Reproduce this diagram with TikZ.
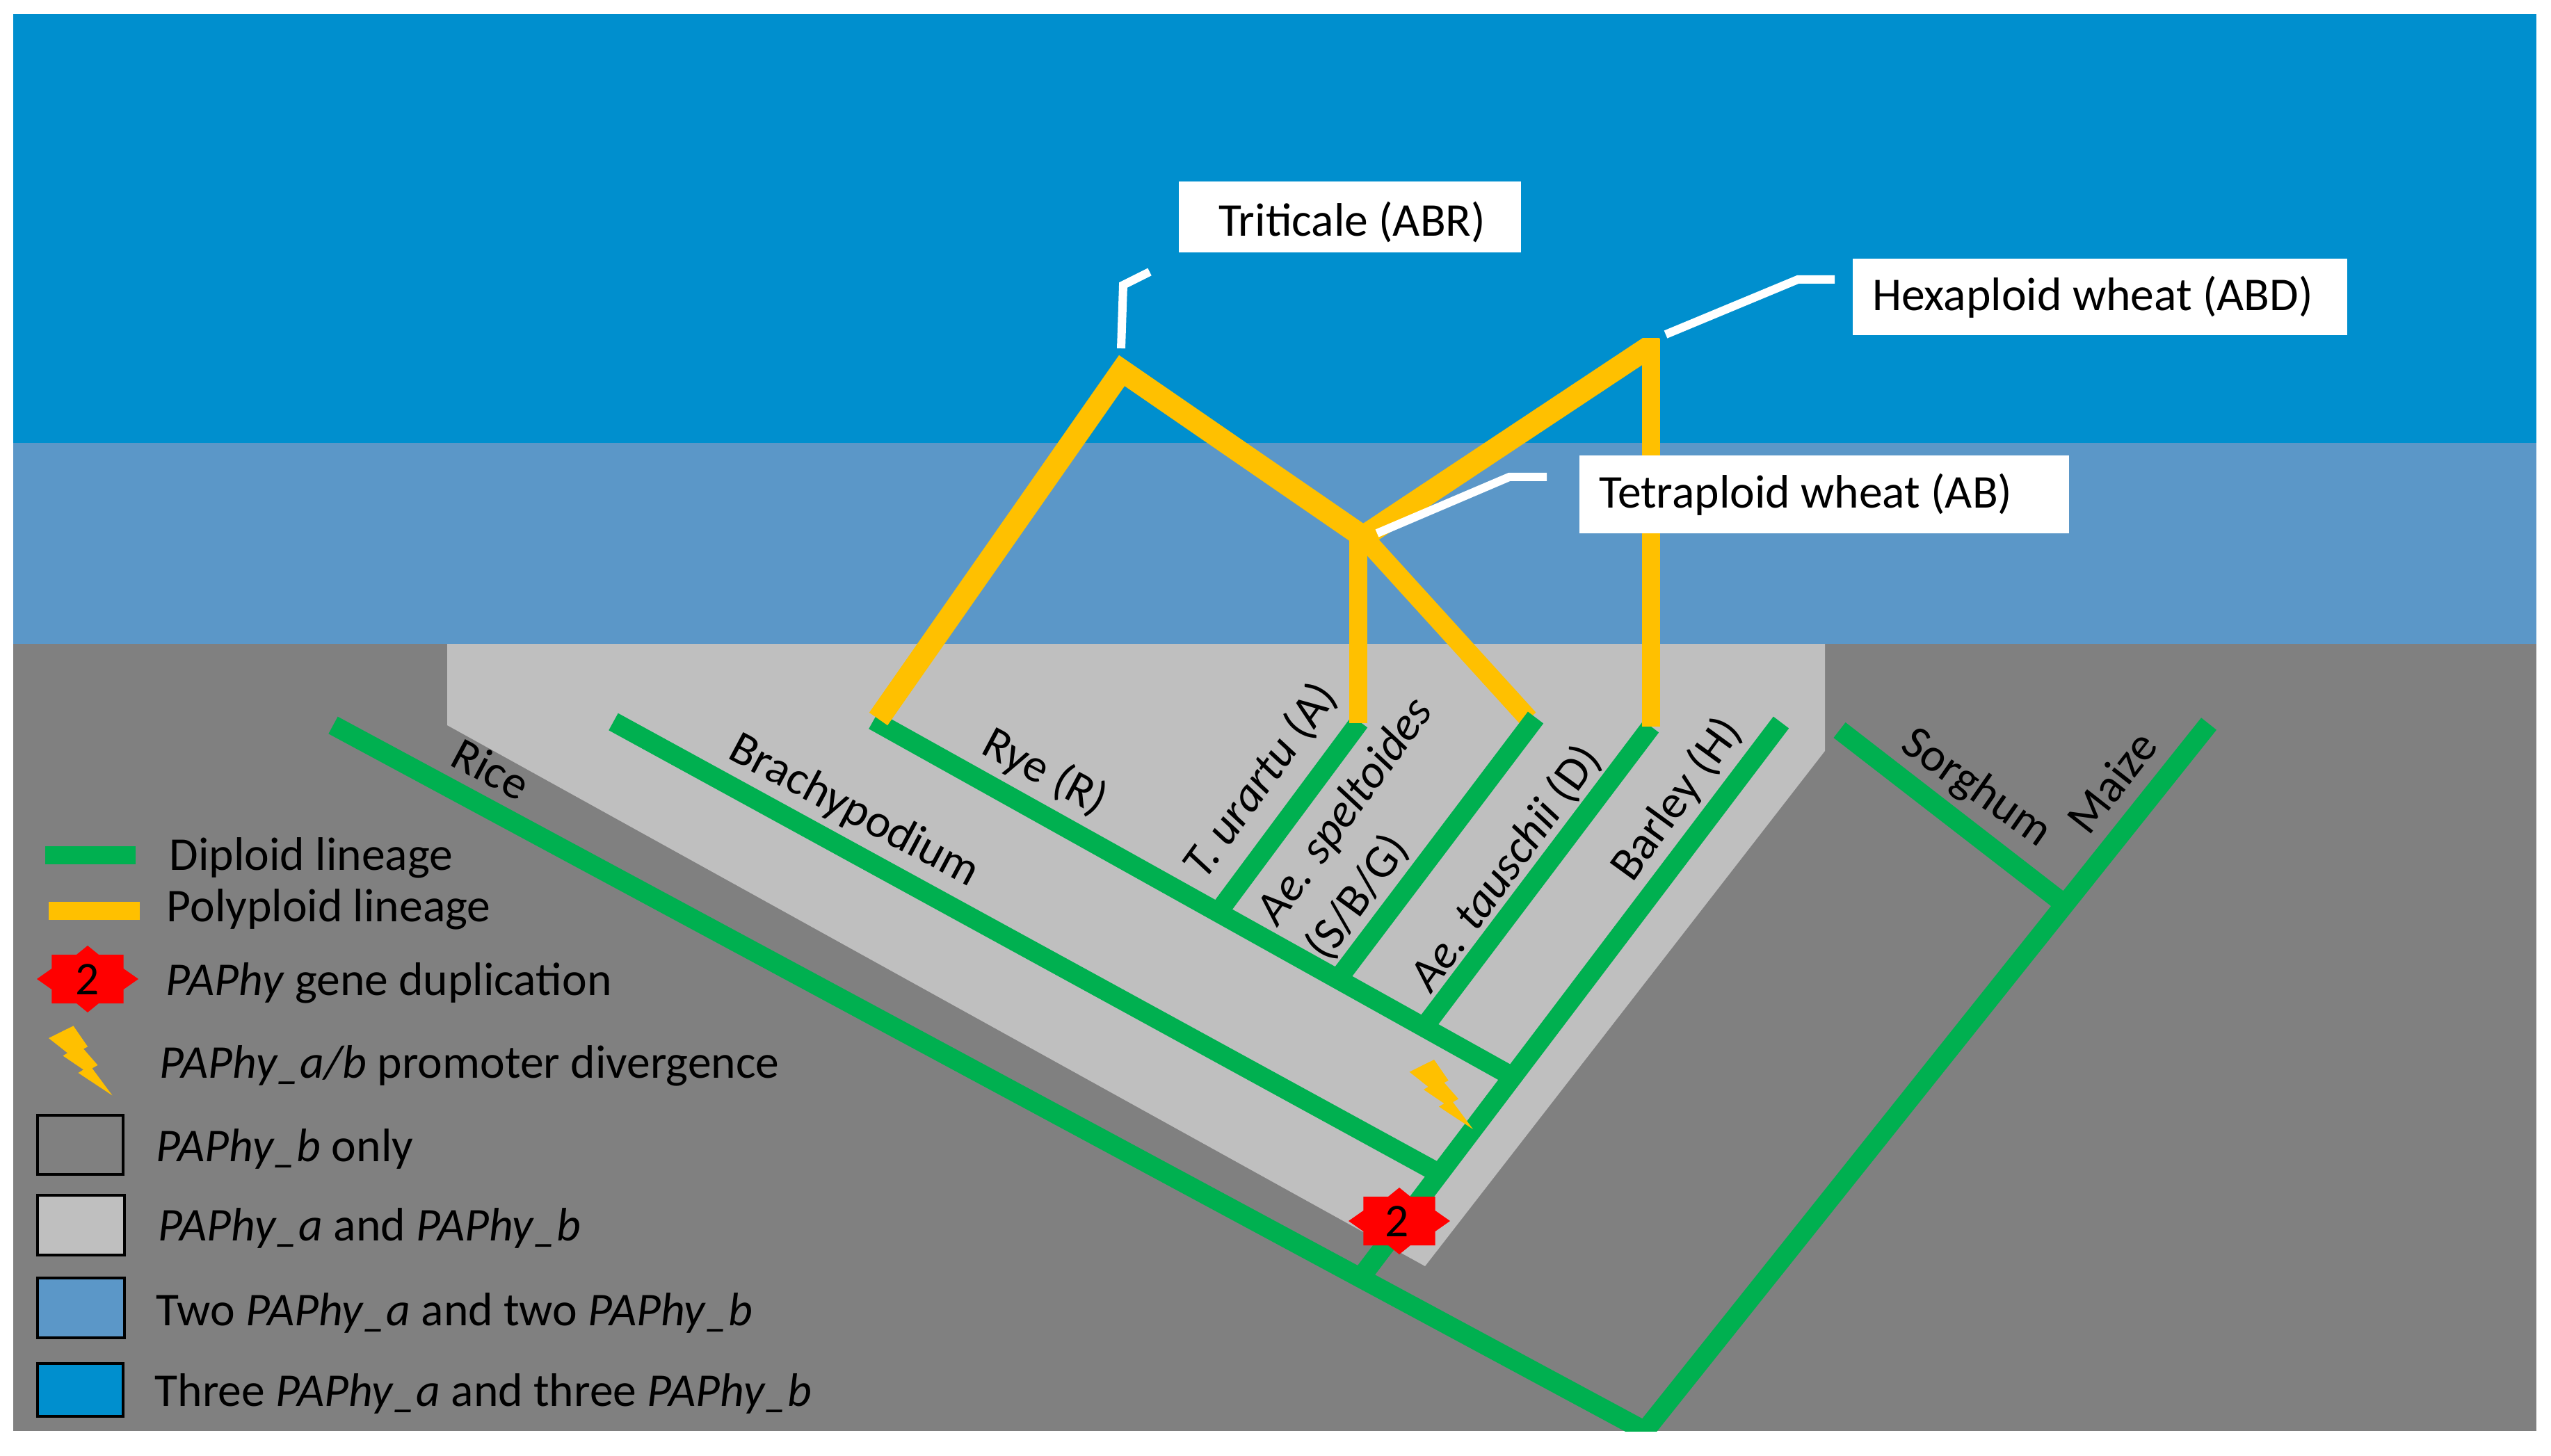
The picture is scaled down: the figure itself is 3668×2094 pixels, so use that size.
\documentclass[tikz,border=0pt]{standalone}
\usepackage{fontspec}
\setmainfont{Carlito}
\usetikzlibrary{calc}
\definecolor{bluethree}{HTML}{008FCE}
\definecolor{bluetwo}{HTML}{5B97C8}
\definecolor{darkgrey}{HTML}{808080}
\definecolor{lightgrey}{HTML}{BFBFBF}
\definecolor{dipgreen}{HTML}{00B050}
\definecolor{polyyellow}{HTML}{FFC000}
\newcommand{\pa}{\textit{PAPhy}}
\tikzset{
  x=0.25pt,y=-0.25pt,
  dip/.style={draw=dipgreen,line width=7pt,miter limit=10},
  poly/.style={draw=polyyellow,line width=6.5pt,miter limit=10},
  polywide/.style={draw=polyyellow,line width=8pt,miter limit=10},
  leader/.style={draw=white,line width=3pt},
  swatch/.style={draw=black,line width=0.8pt},
  lab/.style={font=\fontsize{16.9}{22}\selectfont,text=black,inner sep=0pt},
  leg/.style={lab,anchor=base west},
  labelbox/.style={fill=white,inner sep=0pt,font=\fontsize{16.9}{18}\selectfont,text=black},
  dupstar/.pic={\fill[red] (73,0)--(51.6,15)--(51.6,35)--(16,35)--(0,48)--(-16,35)--(-51.6,35)--(-51.6,15)--(-73,0)--(-51.6,-15)--(-51.6,-35)--(-16,-35)--(0,-48)--(16,-35)--(51.6,-35)--(51.6,-15)--cycle;},
  bolt/.pic={\fill[polyyellow] (0,0)--(35.5,-17.6)--(56.2,12.4)--(50,15.4)--(70.5,38.9)--(62.5,43.4)--(91.5,82.4)--(42.5,50)--(50,45.4)--(20.5,25.4)--(27.1,21.4)--cycle;}
}
\begin{document}
\begin{tikzpicture}
\useasboundingbox (0,0) rectangle (3668,2094);
% backgrounds
\fill[bluethree] (19,20) rectangle (3647,637);
\fill[bluetwo] (19,637) rectangle (3647,926);
\fill[darkgrey] (19,926) rectangle (3647,2058);
\fill[lightgrey] (643,926)--(2624,926)--(2624,1080)--(2049,1821)--(643,1043)--cycle;

% tree coordinates
\coordinate (riceTip) at (479,1043);
\coordinate (root) at (2365,2058);
\coordinate (maizeTip) at (3176,1041);
\coordinate (sorghumTip) at (2645,1050);
\coordinate (sorghumJoin) at (2968,1300);
\coordinate (riceJoin) at (1956,1838);
\coordinate (barleyTip) at (2561,1039);
\coordinate (brachyTip) at (882,1038);
\coordinate (brachyJoin) at (2070,1688);
\coordinate (ryeTip) at (1256,1036);
\coordinate (ryeJoin) at (2174,1548);
\coordinate (urartuJoin) at (1750,1314);
\coordinate (urartuTip) at (1955,1038);
\coordinate (speltJoin) at (1923,1409);
\coordinate (speltTip) at (2208,1032);
\coordinate (tauschJoin) at (2047,1478);
\coordinate (tauschTip) at (2374,1045);
% polyploid coordinates
\coordinate (ryeTop) at (1263,1034);
\coordinate (triticale) at (1613,533);
\coordinate (tetra) at (1960,772);
\coordinate (tetraV) at (1953,1040);
\coordinate (tetraVTop) at (1953,770);
\coordinate (hexa) at (2400,480);
\coordinate (hexaV) at (2374,487);
\coordinate (tauschTop) at (2198,1034);

\draw[draw=polyyellow,line width=7pt] (tetra)--(tauschTop);

\begin{scope}
\clip (19,20) rectangle (3647,2058);
\draw[dip] (riceTip)--(root)--(maizeTip);
\draw[dip] (sorghumTip)--(sorghumJoin);
\draw[dip] (riceJoin)--(barleyTip);
\draw[dip] (brachyTip)--(brachyJoin);
\draw[dip] (ryeTip)--(ryeJoin);
\draw[dip] (urartuJoin)--(urartuTip);
\draw[dip] (speltJoin)--(speltTip);
\draw[dip] (tauschJoin)--(tauschTip);
\end{scope}

\draw[poly] (tetraV)--(tetraVTop);
\draw[poly] (hexaV)--(2374,1045);
\draw[polywide] (ryeTop)--(triticale)--(tetra);
\begin{scope}
\clip (1900,487) rectangle (2386,800);
\draw[polywide] (tetra)--(hexa);
\end{scope}

% label boxes
\node[labelbox,minimum width=123pt,text height=19.6pt,text depth=5.8pt] (boxT) at (1941,312) {\makebox[123pt][l]{\hspace{14.3pt}Triticale (ABR)}};
\node[labelbox,minimum width=177.75pt,minimum height=27.5pt] (boxH) at (3019.5,427) {\makebox[177.75pt][l]{\hspace{7pt}Hexaploid wheat (ABD)}};
\node[labelbox,minimum width=176pt,minimum height=28pt] (boxW) at (2623,711) {\makebox[176pt][l]{\hspace{7pt}Tetraploid wheat (AB)}};

% leaders
\coordinate (l1a) at (1612,501);\coordinate (l1b) at (1615,410);\coordinate (l1c) at (1653,391);
\coordinate (l2a) at (2395,481);\coordinate (l2b) at (2585,402);\coordinate (l2c) at (2638,402);
\coordinate (l3a) at (1980,767);\coordinate (l3b) at (2170,686);\coordinate (l3c) at (2224,686);
\draw[leader] (l1a)--(l1b)--(l1c);
\draw[leader] (l2a)--(l2b)--(l2c);
\draw[leader] (l3a)--(l3b)--(l3c);

% branch labels
\node[lab,rotate=-28] (tRice) at (706,1106) {Rice};
\node[lab,rotate=-28] (tBrachy) at (1228,1167) {Brachypodium};
\node[lab,rotate=-28] (tRye) at (1502,1111) {Rye (R)};
\node[lab,rotate=54] (tUrartu) at (1812,1123) {\textit{T. urartu} (A)};
\node[lab,rotate=54,align=left] (tSpelt) at (1970,1193) {\textit{Ae. speltoides}\\(S/B/G)};
\node[lab,rotate=54] (tTausch) at (2165,1249) {\textit{Ae. tauschii} (D)};
\node[lab,rotate=54] (tBarley) at (2411,1150) {Barley (H)};
\node[lab,rotate=-35] (tSorghum) at (2841,1134) {Sorghum};
\node[lab,rotate=52] (tMaize) at (3036,1125) {Maize};

% markers on tree
\pic at (2026.5,1541.6) {bolt};
\pic at (2012,1756) {dupstar};
\node[lab] (dupOne) at (2009,1757) {2};

% legend
\coordinate (lgA) at (65,1230);\coordinate (lgB) at (195,1230);
\coordinate (lpA) at (70,1310);\coordinate (lpB) at (201,1310);
\draw[draw=dipgreen,line width=6.4pt] (lgA)--(lgB);
\draw[draw=polyyellow,line width=6.6pt] (lpA)--(lpB);
\node[leg] (k1) at (243,1251) {Diploid lineage};
\node[leg] (k2) at (239,1325) {Polyploid lineage};
\pic at (126,1408) {dupstar};
\node[lab] (dupTwo) at (126,1409) {2};
\node[leg] (k3) at (238,1431) {\pa{} gene duplication};
\pic at (70,1493) {bolt};
\node[leg] (k4) at (229,1550) {\textit{PAPhy\_a/b} promoter divergence};
\filldraw[swatch,fill=darkgrey] (54,1604) rectangle (177,1689);
\node[leg] (k5) at (224,1670) {\textit{PAPhy\_b} only};
\filldraw[swatch,fill=lightgrey] (54,1719) rectangle (179,1805);
\node[leg] (k6) at (227,1784) {\textit{PAPhy\_a} and \textit{PAPhy\_b}};
\filldraw[swatch,fill=bluetwo] (54,1838) rectangle (179,1924);
\node[leg] (k7) at (224,1906) {Two \textit{PAPhy\_a} and two \textit{PAPhy\_b}};
\filldraw[swatch,fill=bluethree] (54,1961) rectangle (177,2037);
\node[leg] (k8) at (222,2022) {Three \textit{PAPhy\_a} and three \textit{PAPhy\_b}};
\end{tikzpicture}
\end{document}
